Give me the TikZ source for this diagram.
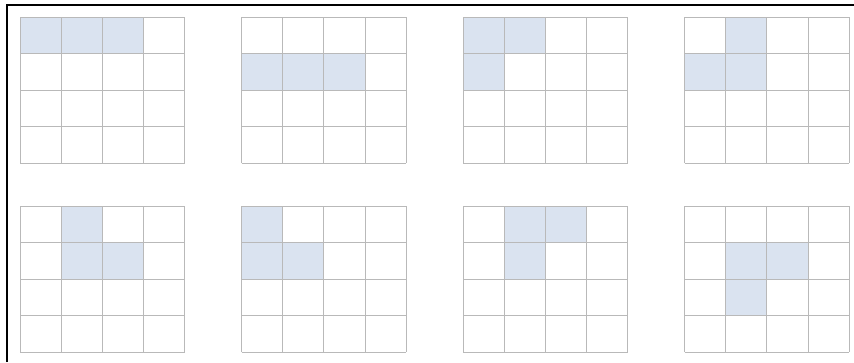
\documentclass[tikz,border=0pt]{standalone}
\definecolor{cellfill}{RGB}{218,227,240}
\definecolor{gridgray}{RGB}{185,185,185}
\tikzset{
  gridline/.style={draw=gridgray, line width=1pt},
  shade/.style={fill=cellfill},
  frameline/.style={draw=black, line width=2.5pt}
}
\newcommand{\cw}{41.2}
\newcommand{\chh}{36.6}
% \pgrid{left}{top}{list of col/row shaded}
\newcommand{\pgrid}[3]{%
  \foreach \c/\r in {#3} {
    \fill[shade] ({#1+\c*\cw},{#2+\r*\chh}) rectangle ++(\cw,\chh);
  }
  \foreach \i in {0,...,4} {
    \draw[gridline] ({#1+\i*\cw},#2) -- ({#1+\i*\cw},{#2+4*\chh});
    \draw[gridline] (#1,{#2+\i*\chh}) -- ({#1+4*\cw},{#2+\i*\chh});
  }
}
\begin{document}
\begin{tikzpicture}[x=1pt,y=-1pt]
\useasboundingbox (0,0) rectangle (854,362);
\fill[white] (0,0) rectangle (854,362);
\pgrid{20}{17}{0/0,1/0,2/0}
\pgrid{241.5}{17}{0/1,1/1,2/1}
\pgrid{463}{17}{0/0,1/0,0/1}
\pgrid{684.5}{17}{1/0,0/1,1/1}
\pgrid{20}{206}{1/0,1/1,2/1}
\pgrid{241.5}{206}{0/0,0/1,1/1}
\pgrid{463}{206}{1/0,2/0,1/1}
\pgrid{684.5}{206}{1/1,2/1,1/2}
\coordinate (fb) at (7,362);
\coordinate (ft) at (7,5);
\coordinate (fr) at (854,5);
\draw[frameline] (fb) -- (ft) -- (fr);
\end{tikzpicture}
\end{document}
